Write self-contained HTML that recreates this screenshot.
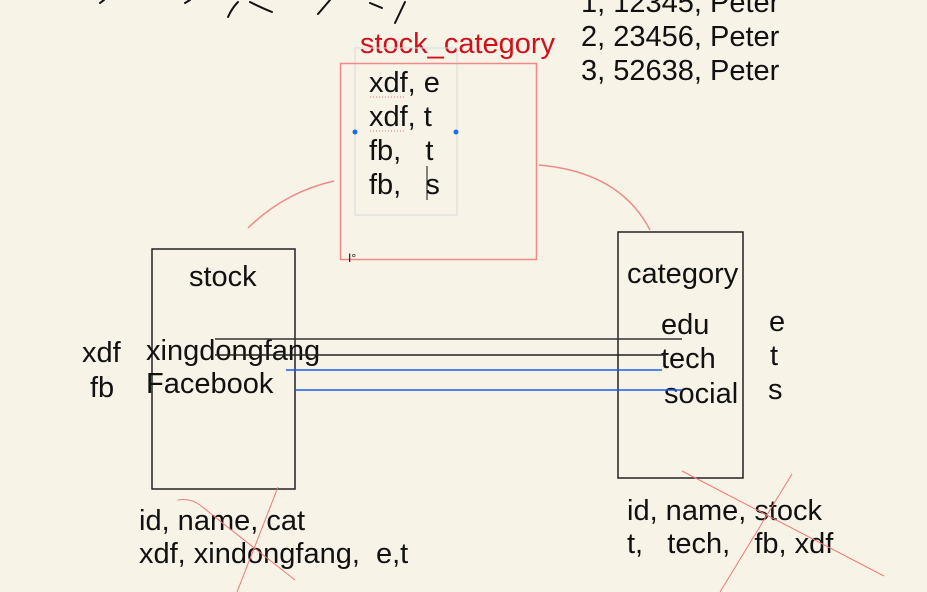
<!DOCTYPE html>
<html><head><meta charset="utf-8"><style>
html,body{margin:0;padding:0;background:#f7f3e7;}
svg{display:block}
text{font-family:"Liberation Sans",sans-serif;font-size:29px;fill:#111;}
</style></head><body>
<svg width="927" height="592" viewBox="0 0 927 592" xmlns="http://www.w3.org/2000/svg">
<rect width="927" height="592" fill="#f7f3e7"/>
<g stroke="#111" stroke-width="2" fill="none" stroke-linecap="round">
<path d="M228 17 Q232 8 238 2"/>
<path d="M250 2 Q262 8 272 12"/>
<path d="M318 14 L330 0"/>
<path d="M370 3 L382 8"/>
<path d="M395 23 L405 2"/>
<path d="M100 3 L104 0"/>
<path d="M185 3 L190 0"/>
</g>
<text x="360" y="53" style="fill:#d0101a">stock_category</text>
<rect x="355" y="48" width="102" height="167" fill="none" stroke="#d8d8d8" stroke-width="1"/>
<rect x="340.5" y="63.5" width="196" height="196" fill="none" stroke="#f08a8a" stroke-width="1.5"/>
<circle cx="355" cy="132" r="2.5" fill="#1a6cf0"/>
<circle cx="456" cy="132" r="2.5" fill="#1a6cf0"/>
<text x="369" y="92">xdf, e</text>
<text x="369" y="126">xdf, t</text>
<text x="369" y="160">fb,&#160;&#160;&#160;t</text>
<text x="369" y="194">fb,&#160;&#160;&#160;s</text>
<line x1="427" y1="166" x2="427" y2="200" stroke="#111" stroke-width="1"/>
<path d="M370 97 L405 97 M370 131 L405 131" stroke="#e07070" stroke-width="1" stroke-dasharray="1 2"/>
<text x="581" y="12">1, 12345, Peter</text>
<text x="581" y="46">2, 23456, Peter</text>
<text x="581" y="80">3, 52638, Peter</text>
<path d="M248 228 Q285 192 334 181" stroke="#f08a8a" stroke-width="1.5" fill="none"/>
<path d="M539 165 Q620 172 650 230" stroke="#f08a8a" stroke-width="1.5" fill="none"/>
<rect x="152" y="249" width="143" height="240" fill="none" stroke="#222" stroke-width="1.5"/>
<text x="189" y="286">stock</text>
<text x="82" y="362">xdf</text>
<text x="90" y="397">fb</text>
<text x="146" y="360">xingdongfang</text>
<text x="146" y="393">Facebook</text>
<rect x="618" y="232" width="125" height="246" fill="none" stroke="#222" stroke-width="1.5"/>
<text x="627" y="283">category</text>
<text x="661" y="334">edu</text>
<text x="661" y="368">tech</text>
<text x="664" y="403">social</text>
<text x="769" y="331">e</text>
<text x="770" y="365">t</text>
<text x="768" y="399">s</text>
<line x1="215" y1="339" x2="682" y2="339" stroke="#333" stroke-width="1.5"/>
<line x1="215" y1="355" x2="665" y2="355" stroke="#222" stroke-width="1.5"/>
<line x1="286" y1="370" x2="662" y2="370" stroke="#1a5ef0" stroke-width="1.5"/>
<line x1="296" y1="390" x2="682" y2="390" stroke="#1a5ef0" stroke-width="1.5"/>
<text x="139" y="530">id, name, cat</text>
<text x="139" y="563">xdf, xindongfang,&#160; e,t</text>
<text x="627" y="520">id, name, stock</text>
<text x="627" y="553">t,&#160;&#160; tech,&#160;&#160; fb, xdf</text>
<g stroke="#f07878" stroke-width="1" fill="none">
<path d="M278 487 L237 592"/>
<path d="M178 500 Q190 498 200 505 L225 525 L295 580"/>
<path d="M682 471 L884 576"/>
<path d="M792 474 L720 592"/>
</g>
<text x="348" y="262" style="font-size:12px">I°</text>
</svg>
</body></html>
